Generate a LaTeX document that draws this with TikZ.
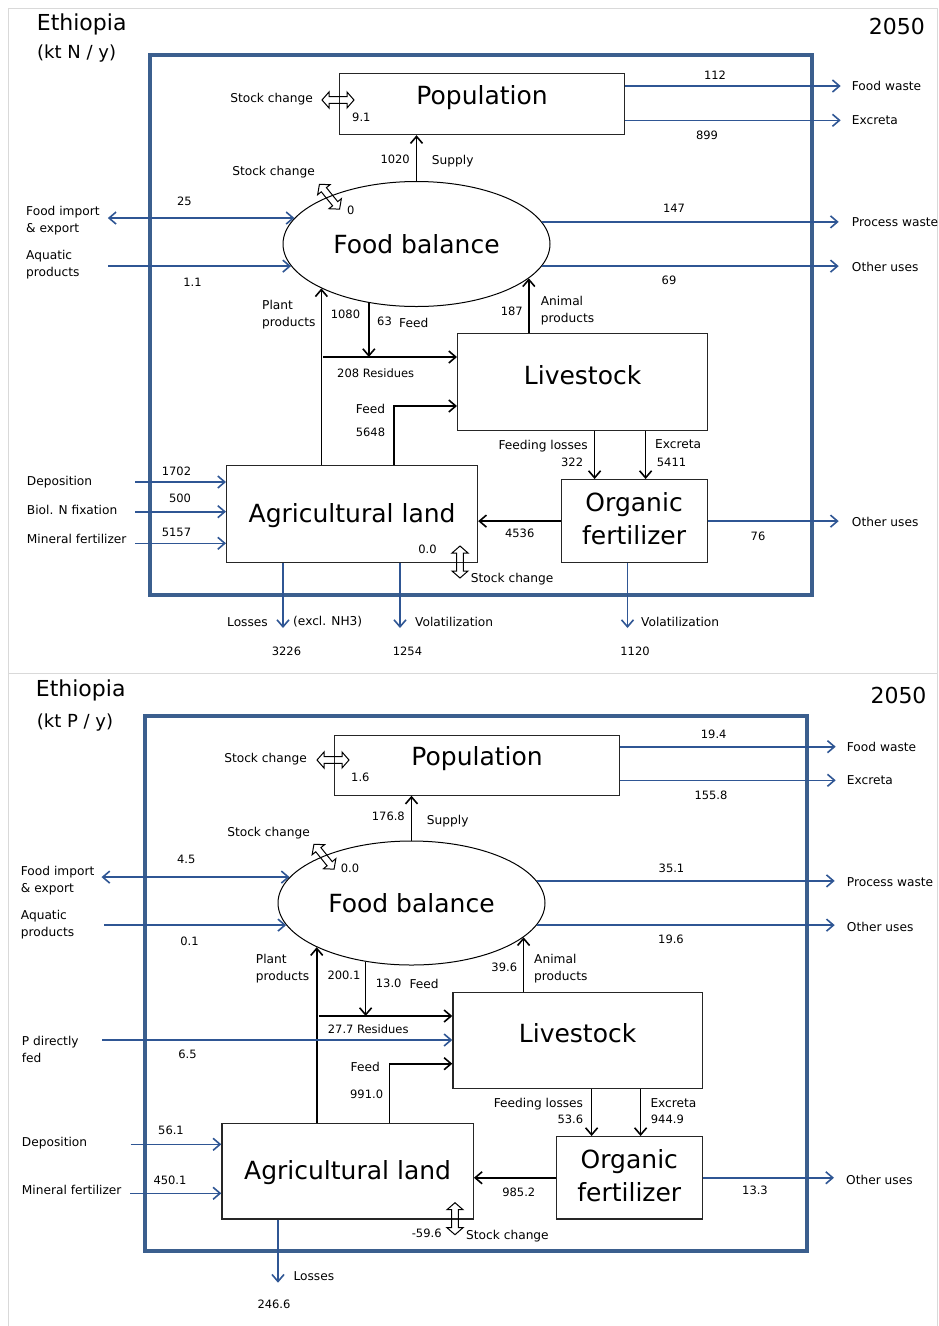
\documentclass[tikz,border=0pt]{standalone}
\usepackage{fontspec}
\setmainfont{DejaVu Sans}
\usepackage{tikz}
\usetikzlibrary{arrows.meta,positioning,calc,shapes.geometric}
\definecolor{sysblue}{RGB}{59,95,142}
\definecolor{flowblue}{RGB}{47,86,148}
\newcommand{\boxtxt}{\fontsize{25}{33.5}\selectfont}
\newcommand{\lbltxt}{\fontsize{12.2}{17}\selectfont}
\newcommand{\numtxt}{\fontsize{11.5}{14}\selectfont}
\newcommand{\ttltxt}{\fontsize{22}{26}\selectfont}
\newcommand{\unittxt}{\fontsize{18}{22}\selectfont}
\tikzset{
  bx/.style={rectangle,draw=black!85,line width=1.2pt,inner sep=0pt,font=\boxtxt,align=center,anchor=north west},
  fbal/.style={ellipse,draw,line width=1pt,inner sep=0pt,font=\boxtxt,minimum width=267pt},
  lb/.style={inner sep=0pt,font=\lbltxt,align=left},
  nm/.style={inner sep=0pt,font=\numtxt},
  stockarr/.pic={\draw[line width=1pt] (-16,0) -- (-9,-8) -- (-9,-3.3) -- (9,-3.3) -- (9,-8) -- (16,0)
     -- (9,8) -- (9,3.3) -- (-9,3.3) -- (-9,8) -- cycle;},
}

\begin{document}
\begin{tikzpicture}[x=1pt,y=-1pt,
  karr/.style={-{Straight Barb[length=7pt,width=12pt]},line width=1.6pt},
  barr/.style={-{Straight Barb[length=7pt,width=12pt]},line width=1.6pt,flowblue},
  bboth/.style={{Straight Barb[length=7pt,width=12pt]}-{Straight Barb[length=7pt,width=12pt]},line width=1.6pt,flowblue}]
  \useasboundingbox (0,0) rectangle (939,1326);
  \draw[black!15,line width=1pt] (8,8) -- (937,8) (8,673) -- (937,673) (8,8) -- (8,1326) (937,8) -- (937,1326);

  % ---- nitrogen
  \node[anchor=west,inner sep=0pt,font=\ttltxt] (eth1) at (36.7,24.5) {Ethiopia};
  \node[anchor=west,inner sep=0pt,font=\unittxt] (unit1) at (37,54) {(kt N / y)};
  \node[anchor=east,inner sep=0pt,font=\ttltxt] (yr1) at (925,26.7) {2050};
  \draw[sysblue,line width=4.5pt] (150,55) rectangle (812,595);

  \node[bx,minimum width=285pt,minimum height=61pt,text height=19pt,text depth=18pt] (pop1) at (339,73) {Population};
  \node[fbal,minimum height=125pt] (fb1) at (416.5,244) {Food balance};
  \node[bx,minimum width=250pt,minimum height=97pt,text height=19pt,text depth=15pt] (live1) at (457,333) {Livestock};
  \node[bx,minimum width=251pt,minimum height=97pt,text height=19pt,text depth=2pt] (agri1) at (226,465) {Agricultural land};
  \node[bx,minimum width=146pt,minimum height=83pt,text depth=5pt] (org1) at (560.5,479) {Organic\\fertilizer};

  \node[lb,anchor=east] (sc1p) at (313,98.7) {Stock change};
  \node[nm,anchor=west] (sc1pv) at (352,117.3) {9.1};
  \node[nm,anchor=east] (sup1v) at (410,159.3) {1020};
  \node[lb,anchor=west] (sup1) at (431.7,160.7) {Supply};
  \node[lb,anchor=east] (sc1f) at (315,172.3) {Stock change};
  \node[nm,anchor=west] (sc1fv) at (347,210) {0};
  \node[nm] (fi1v) at (184.5,201.3) {25};
  \node[lb,anchor=west] (fi1) at (26,220.8) {Food import\\\& export};
  \node[lb,anchor=west] (aq1) at (26,265) {Aquatic\\products};
  \node[nm] (aq1v) at (192.5,282.7) {1.1};
  \node[lb,anchor=west] (pp1) at (262,314.7) {Plant\\products};
  \node[nm] (pp1v) at (345.5,314) {1080};
  \node[nm,anchor=west] (fd1v) at (377,321.3) {63};
  \node[lb,anchor=west] (fd1) at (399,323.3) {Feed};
  \node[nm,anchor=west] (res1l) at (337,373.3) {208 Residues};
  \node[lb,anchor=east] (fk1) at (385.3,409.3) {Feed};
  \node[nm,anchor=east] (fk1v) at (385.3,432.3) {5648};
  \node[nm] (fw1v) at (715,75.3) {112};
  \node[lb,anchor=west] (fw1) at (851.7,86) {Food waste};
  \node[lb,anchor=west] (ex1) at (851.7,120.3) {Excreta};
  \node[nm] (ex1v) at (707,135) {899};
  \node[nm] (pw1v) at (674,208) {147};
  \node[lb,anchor=west] (pw1) at (851.7,222) {Process waste};
  \node[lb,anchor=west] (ou1) at (851.7,266.7) {Other uses};
  \node[nm] (ou1v) at (669,280) {69};
  \node[nm,anchor=east] (ap1v) at (523,311.3) {187};
  \node[lb,anchor=west] (ap1) at (540.7,310.5) {Animal\\products};
  \node[lb,anchor=west] (dep1) at (26.7,481.7) {Deposition};
  \node[lb,anchor=west] (bnf1) at (26.7,510.3) {Biol. N fixation};
  \node[lb,anchor=west] (mf1) at (26.7,539.3) {Mineral fertilizer};
  \node[nm] (dep1v) at (176.5,471.3) {1702};
  \node[nm] (bnf1v) at (180,498) {500};
  \node[nm] (mf1v) at (176.5,532) {5157};
  \node[nm] (sca1v) at (427.5,549) {0.0};
  \node[lb,anchor=west] (sca1) at (470.7,579.3) {Stock change};
  \node[lb,anchor=east] (fl1) at (588,445.7) {Feeding losses};
  \node[nm,anchor=east] (fl1v) at (583.3,462.3) {322};
  \node[lb,anchor=west] (lx1) at (655,444.3) {Excreta};
  \node[nm,anchor=west] (lx1v) at (656.7,462.3) {5411};
  \node[nm] (of1v) at (519.7,533.3) {4536};
  \node[lb,anchor=west] (ou1b) at (851.7,521.7) {Other uses};
  \node[nm] (ou1bv) at (758,536.7) {76};
  \node[lb,anchor=east] (los1) at (268,621.7) {Losses};
  \node[lb,anchor=west] (los1x) at (293,621.7) {(excl. NH3)};
  \node[nm] (los1v) at (286.5,651.3) {3226};
  \node[lb,anchor=west] (vo1) at (415,621.7) {Volatilization};
  \node[nm] (vo1v) at (407.5,651.3) {1254};
  \node[lb,anchor=west] (vo2) at (641,621.7) {Volatilization};
  \node[nm] (vo2v) at (635,651) {1120};

  \coordinate (aq1s) at (108,267);
  \coordinate (dep1s) at (135,482);
  \coordinate (bnf1s) at (135,511.7);
  \coordinate (mf1s) at (135,543.3);
  \coordinate (res1) at (323,357);
  \coordinate (fk1c) at (394,406);
  \coordinate (los1e) at (283,628);
  \coordinate (vo1e) at (400,628);
  \coordinate (vo2e) at (627.5,628);

  \draw[karr] (fb1.north) -- (fb1.north |- pop1.south);
  \draw[barr] (pop1.east |- fw1) -- ([xshift=-11pt]fw1.west);
  \draw[barr] (pop1.east |- ex1) -- ([xshift=-11pt]ex1.west);
  \draw[barr] (fb1.10.5) -- ([xshift=-13pt]pw1.west |- fb1.10.5);
  \draw[barr] (fb1.-10.3) -- ([xshift=-13pt]ou1.west |- fb1.-10.3);
  \draw[bboth] ([xshift=8pt]fi1.east |- fb1.168) -- (fb1.168);
  \draw[barr] (fb1.190.5 -| aq1s) -- (fb1.190.5);
  \draw[karr] (fb1.205.5 |- agri1.north) -- (fb1.205.5);
  \draw[karr] (fb1.231) -- (fb1.231 |- res1);
  \draw[karr] (res1) -- (res1 -| live1.west);
  \draw[karr] (fb1.-17.5 |- live1.north) -- (fb1.-17.5);
  \draw[karr] (fk1c |- agri1.north) -- (fk1c) -- (fk1c -| live1.west);
  \draw[karr] ([xshift=12pt]live1.south) -- ([xshift=12pt]live1.south |- org1.north);
  \draw[karr] ([xshift=63pt]live1.south) -- ([xshift=63pt]live1.south |- org1.north);
  \draw[karr] (org1.west) -- (org1.west -| agri1.east);
  \draw[barr] (org1.east) -- ([xshift=-13pt]ou1b.west |- org1.east);
  \draw[barr] (dep1s) -- (dep1s -| agri1.west);
  \draw[barr] (bnf1s) -- (bnf1s -| agri1.west);
  \draw[barr] (mf1s) -- (mf1s -| agri1.west);
  \draw[barr] (los1e |- agri1.south) -- (los1e);
  \draw[barr] (vo1e |- agri1.south) -- (vo1e);
  \draw[barr] (vo2e |- org1.south) -- (vo2e);
  \pic at (338,100) {stockarr};
  \pic[rotate=-51] at (329.5,196.7) {stockarr};
  \pic[rotate=90] at (460,562) {stockarr};

  % ---- phosphorus
  \node[anchor=west,inner sep=0pt,font=\ttltxt] (eth2) at (35.7,690.8) {Ethiopia};
  \node[anchor=west,inner sep=0pt,font=\unittxt] (unit2) at (36.7,722.3) {(kt P / y)};
  \node[anchor=east,inner sep=0pt,font=\ttltxt] (yr2) at (926.7,695) {2050};
  \draw[sysblue,line width=4.5pt] (145,716) rectangle (807,1251);

  \node[bx,minimum width=285pt,minimum height=59.5pt,text height=19pt,text depth=18pt] (pop2) at (334,735) {Population};
  \node[fbal,minimum height=124pt] (fb2) at (411.5,903) {Food balance};
  \node[bx,minimum width=249.4pt,minimum height=96pt,text height=19pt,text depth=15pt] (live2) at (452.3,992) {Livestock};
  \node[bx,minimum width=251.4pt,minimum height=95.6pt,text height=19pt,text depth=2pt] (agri2) at (221.3,1122.7) {Agricultural land};
  \node[bx,minimum width=146pt,minimum height=82.3pt,text depth=5pt] (org2) at (555.7,1136) {Organic\\fertilizer};

  \node[lb,anchor=east] (sc2p) at (307,759.3) {Stock change};
  \node[nm,anchor=west] (sc2pv) at (351,777.3) {1.6};
  \node[nm,anchor=east] (sup2v) at (405,816) {176.8};
  \node[lb,anchor=west] (sup2) at (426.7,820.7) {Supply};
  \node[lb,anchor=east] (sc2f) at (310,832.7) {Stock change};
  \node[nm,anchor=west] (sc2fv) at (340.7,868.3) {0.0};
  \node[nm] (fi2v) at (186.3,859.3) {4.5};
  \node[lb,anchor=west] (fi2) at (20.7,880.3) {Food import\\\& export};
  \node[lb,anchor=west] (aq2) at (20.7,924.5) {Aquatic\\products};
  \node[nm] (aq2v) at (189.5,941.3) {0.1};
  \node[lb,anchor=west] (pp2) at (255.7,968.8) {Plant\\products};
  \node[nm] (pp2v) at (344,975) {200.1};
  \node[nm,anchor=west] (fd2v) at (375.7,983.3) {13.0};
  \node[lb,anchor=west] (fd2) at (409.3,984.3) {Feed};
  \node[nm,anchor=west] (res2l) at (327.7,1029) {27.7 Residues};
  \node[lb,anchor=west] (pdf2) at (21.7,1049.5) {P directly\\fed};
  \node[nm] (pdf2v) at (187.5,1054.3) {6.5};
  \node[lb,anchor=east] (fk2) at (380,1067.3) {Feed};
  \node[nm,anchor=east] (fk2v) at (383.3,1094.3) {991.0};
  \node[nm] (fw2v) at (713.7,734.3) {19.4};
  \node[lb,anchor=west] (fw2) at (846.7,746.7) {Food waste};
  \node[lb,anchor=west] (ex2) at (846.7,780.3) {Excreta};
  \node[nm] (ex2v) at (711,795.3) {155.8};
  \node[nm] (pw2v) at (671.5,868.3) {35.1};
  \node[lb,anchor=west] (pw2) at (846.7,881.7) {Process waste};
  \node[lb,anchor=west] (ou2) at (846.7,926.7) {Other uses};
  \node[nm] (ou2v) at (671,939.3) {19.6};
  \node[nm,anchor=east] (ap2v) at (517.3,967.7) {39.6};
  \node[lb,anchor=west] (ap2) at (534,969) {Animal\\products};
  \node[nm] (dep2v) at (171,1130.3) {56.1};
  \node[lb,anchor=west] (dep2) at (21.7,1142.7) {Deposition};
  \node[nm] (mf2v) at (170,1180.3) {450.1};
  \node[lb,anchor=west] (mf2) at (21.7,1190.3) {Mineral fertilizer};
  \node[nm] (sca2v) at (426.7,1233.7) {-59.6};
  \node[lb,anchor=west] (sca2) at (466,1235.7) {Stock change};
  \node[lb,anchor=east] (fl2) at (583.3,1103.7) {Feeding losses};
  \node[nm,anchor=east] (fl2v) at (583.3,1119.3) {53.6};
  \node[lb,anchor=west] (lx2) at (650.3,1102.7) {Excreta};
  \node[nm,anchor=west] (lx2v) at (650.7,1119.3) {944.9};
  \node[nm] (of2v) at (518.8,1192) {985.2};
  \node[lb,anchor=west] (ou2b) at (846,1179.7) {Other uses};
  \node[nm] (ou2bv) at (755,1190.7) {13.3};
  \node[lb,anchor=west] (los2) at (293.3,1275.7) {Losses};
  \node[nm] (los2v) at (274,1304.3) {246.6};

  \coordinate (aq2s) at (104,926);
  \coordinate (pdf2s) at (102.3,1040);
  \coordinate (dep2s) at (130.7,1144.3);
  \coordinate (mf2s) at (130,1193.3);
  \coordinate (res2) at (318.5,1016);
  \coordinate (fk2c) at (389.3,1063.7);
  \coordinate (los2e) at (278,1282.7);

  \draw[karr] (fb2.north) -- (fb2.north |- pop2.south);
  \draw[barr] (pop2.east |- fw2) -- ([xshift=-11pt]fw2.west);
  \draw[barr] (pop2.east |- ex2) -- ([xshift=-11pt]ex2.west);
  \draw[barr] (fb2.10.5) -- ([xshift=-12pt]pw2.west |- fb2.10.5);
  \draw[barr] (fb2.-10.3) -- ([xshift=-12pt]ou2.west |- fb2.-10.3);
  \draw[bboth] ([xshift=7pt]fi2.east |- fb2.168) -- (fb2.168);
  \draw[barr] (fb2.190.5 -| aq2s) -- (fb2.190.5);
  \draw[karr] (fb2.205.5 |- agri2.north) -- (fb2.205.5);
  \draw[karr] (fb2.232.5) -- (fb2.232.5 |- res2);
  \draw[karr] (res2) -- (res2 -| live2.west);
  \draw[barr] (pdf2s) -- (pdf2s -| live2.west);
  \draw[karr] (fb2.-17.5 |- live2.north) -- (fb2.-17.5);
  \draw[karr] (fk2c |- agri2.north) -- (fk2c) -- (fk2c -| live2.west);
  \draw[karr] ([xshift=14pt]live2.south) -- ([xshift=14pt]live2.south |- org2.north);
  \draw[karr] ([xshift=63pt]live2.south) -- ([xshift=63pt]live2.south |- org2.north);
  \draw[karr] (org2.west) -- (org2.west -| agri2.east);
  \draw[barr] (org2.east) -- ([xshift=-12pt]ou2b.west |- org2.east);
  \draw[barr] (dep2s) -- (dep2s -| agri2.west);
  \draw[barr] (mf2s) -- (mf2s -| agri2.west);
  \draw[barr] (los2e |- agri2.south) -- (los2e);
  \pic at (333,760) {stockarr};
  \pic[rotate=-51] at (324,856.7) {stockarr};
  \pic[rotate=90] at (455,1218.7) {stockarr};
\end{tikzpicture}
\end{document}
